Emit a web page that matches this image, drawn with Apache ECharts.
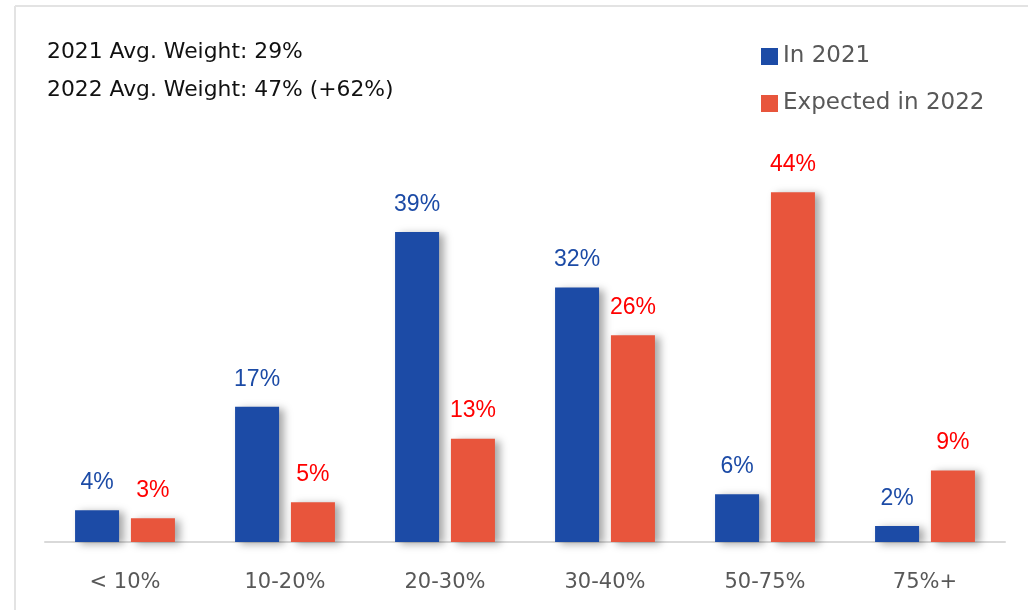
<!DOCTYPE html>
<html>
<head>
<meta charset="utf-8">
<script src="https://cdn.jsdelivr.net/npm/echarts@6/dist/echarts.min.js"></script>
<style>
  html, body { margin: 0; padding: 0; background: #fff; }
  #chart { width: 1028px; height: 610px; }
</style>
</head>
<body>
<div id="chart"></div>
<script>
// Share of portfolio weight, by bucket
const categories = ['< 10%', '10-20%', '20-30%', '30-40%', '50-75%', '75%+'];
const in2021 = [4, 17, 39, 32, 6, 2];
const expected2022 = [3, 5, 13, 26, 44, 9];
const seriesNames = ['In 2021', 'Expected in 2022'];
const summaryLines = ['2021 Avg. Weight: 29%', '2022 Avg. Weight: 47% (+62%)'];

const BLUE = '#1c4ba6';
const RED = '#e8553c';
const UI_FONT = '"DejaVu Sans", sans-serif';
const LABEL_FONT = '"Liberation Sans", Arial, sans-serif';

const chart = echarts.init(document.getElementById('chart'), null, { renderer: 'canvas' });

const barShadow = {
  shadowColor: 'rgba(0,0,0,0.35)',
  shadowBlur: 8,
  shadowOffsetX: 5,
  shadowOffsetY: 2
};

function valueLabel(color) {
  return {
    show: true,
    position: 'top',
    distance: 16,
    formatter: '{c}%',
    fontFamily: LABEL_FONT,
    fontSize: 23,
    color: color
  };
}

chart.setOption({
  animation: false,
  backgroundColor: '#fff',
  graphic: [
    // panel border (top and left edges)
    { type: 'line', shape: { x1: 15, y1: 6, x2: 1028, y2: 6 }, style: { stroke: '#e3e3e3', lineWidth: 2 } },
    { type: 'line', shape: { x1: 15, y1: 6, x2: 15, y2: 610 }, style: { stroke: '#e3e3e3', lineWidth: 2 } },
    { type: 'text', x: 47, y: 42, scaleX: 1.04, style: { text: summaryLines[0], font: '400 21px ' + UI_FONT, fill: '#111' } },
    { type: 'text', x: 47, y: 80, scaleX: 1.04, style: { text: summaryLines[1], font: '400 21px ' + UI_FONT, fill: '#111' } }
  ],
  legend: {
    orient: 'vertical',
    left: 756,
    top: 40,
    itemWidth: 17,
    itemHeight: 17,
    itemGap: 24,
    itemTextGap: 10,
    icon: 'rect',
    data: seriesNames,
    textStyle: { fontFamily: UI_FONT, fontSize: 23, lineHeight: 23, color: '#585858' }
  },
  grid: { left: 45, right: 23, top: 144.5, bottom: 68, containLabel: false },
  xAxis: {
    type: 'category',
    data: categories,
    axisLine: { lineStyle: { color: '#d9d9d9', width: 2 } },
    axisTick: { show: false },
    axisLabel: { fontFamily: UI_FONT, fontSize: 21, color: '#585858', margin: 30 }
  },
  yAxis: {
    type: 'value',
    min: 0,
    max: 50,
    show: false,
    splitLine: { show: false }
  },
  series: [
    {
      name: seriesNames[0],
      type: 'bar',
      data: in2021,
      barWidth: 44,
      barGap: '27%',
      itemStyle: Object.assign({ color: BLUE }, barShadow),
      label: valueLabel(BLUE)
    },
    {
      name: seriesNames[1],
      type: 'bar',
      data: expected2022,
      barWidth: 44,
      barGap: '27%',
      itemStyle: Object.assign({ color: RED }, barShadow),
      label: valueLabel('#ff0000')
    }
  ]
});
</script>
</body>
</html>
